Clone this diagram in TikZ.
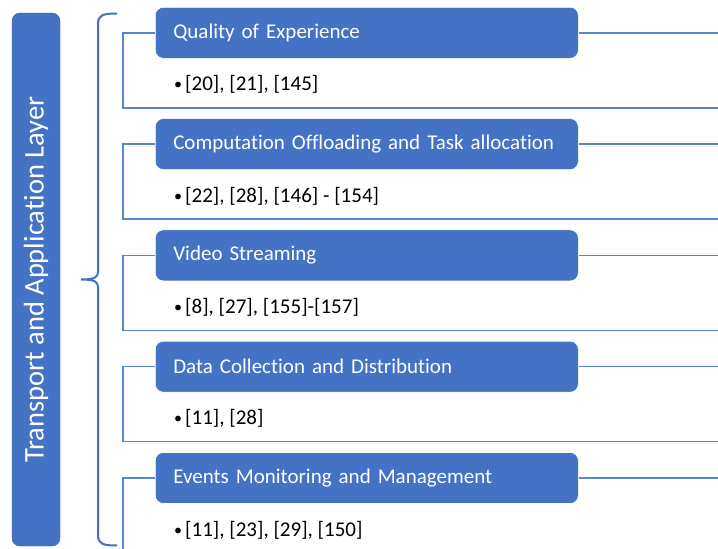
\documentclass[tikz,border=0pt]{standalone}
\usepackage{fontspec}
\setmainfont{Carlito}[Ligatures=NoCommon]
\usepackage{tikz}
\usetikzlibrary{positioning}
\usetikzlibrary{calc}
\definecolor{accentBlue}{HTML}{4472C4}
\definecolor{frameBlue}{HTML}{5B84CC}
\tikzset{
    layerbar/.style={rectangle,rounded corners=8pt,fill=accentBlue,draw=accentBlue!80!black,line width=0.4pt,
      minimum width=48pt,minimum height=533pt,text=white,inner sep=0pt},
    topicbox/.style={rectangle,rounded corners=8pt,fill=accentBlue,draw=white,line width=0.6pt,
      minimum width=423pt,minimum height=51pt,text=white,align=left,text width=387pt,inner xsep=18pt,
      font=\fontsize{21}{26}\selectfont},
    reflist/.style={inner sep=0pt,anchor=base west,font=\fontsize{21}{26}\selectfont},
    frameline/.style={draw=frameBlue,line width=1.5pt},
  }
\newcommand{\bulletRef}[1]{\raisebox{1pt}{\fontsize{16}{16}\selectfont•}\hspace{3pt}#1}

\begin{document}
\begin{tikzpicture}[x=1pt,y=-1pt]
  \useasboundingbox[fill=white] (0,0) rectangle (718,549);
  \node[layerbar] (layer) at (36,279.5) {\rotatebox{90}{\fontsize{28.5}{30}\selectfont Transport and Application Layer}};
  % brace
  \coordinate (braceTop) at (117,13.5);
  \coordinate (braceTip) at (81,279.5);
  \coordinate (braceBot) at (117,545.5);
  \draw[draw=accentBlue,line width=2pt] (braceTop) .. controls (103,13.5) and (98,15) .. (98,24)
    -- (98,272) .. controls (98,277) and (95,279.5) .. (braceTip)
    (braceTip) .. controls (95,279.5) and (98,282) .. (98,287)
    -- (98,535) .. controls (98,544) and (103,545.5) .. (braceBot);
  \foreach \i/\topic/\refs in {
      1/Quality of Experience/{[20], [21], [145]},
      2/Computation Offloading and Task allocation/{[22], [28], [146] - [154]},
      3/Video Streaming/{[8], [27], [155]-[157]},
      4/Data Collection and Distribution/{[11], [28]},
      5/Events Monitoring and Management/{[11], [23], [29], [150]}}{
    \pgfmathsetmacro{\ytop}{7+111.3*(\i-1)}
    \node[topicbox,anchor=north west] (hd\i) at (155,\ytop) {\mbox{\topic}};
    \coordinate (fr\i) at ($(hd\i.west)+(563,0)$);
    \coordinate (fl\i) at ($(hd\i.west)+(-32,75)$);
    \coordinate (fb\i) at ($(hd\i.west)+(563,75)$);
    \path[frameline] (hd\i.east) -- (fr\i);
    \path[frameline] (hd\i.west) -| (fl\i) -- (fb\i);
    \node[reflist] (ref\i) at ($(hd\i.west)+(19,58)$) {\bulletRef{\refs}};
  }
\end{tikzpicture}
\end{document}
